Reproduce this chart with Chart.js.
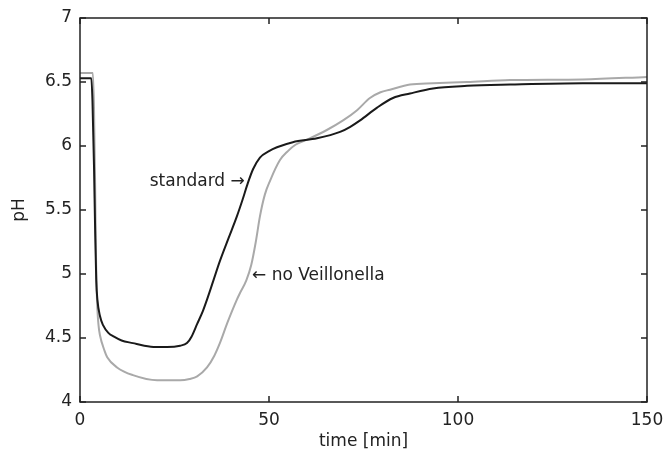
<!DOCTYPE html>
<html>
<head>
<meta charset="utf-8">
<script src="https://cdn.jsdelivr.net/npm/chart.js@4/dist/chart.umd.min.js"></script>
<style>
  html, body { margin: 0; padding: 0; background: #fff; }
</style>
</head>
<body>
<canvas id="phChart" width="664" height="461"></canvas>
<script>
// time [min] and pH
const standardTime = [0, 3.0, 3.3, 3.7, 4.0, 4.3, 4.6, 5.3, 6.1, 7.5, 9.0, 11.0, 14.0, 17.0, 20.0, 23.0, 26.5, 28.3, 29.5, 31.0, 32.5, 33.6, 35.3, 37.0, 39.3, 41.5, 43.0, 44.4, 45.8, 47.6, 50.0, 52.1, 56.3, 62.7, 68.8, 71.5, 74.1, 78.6, 82.8, 87.3, 93.4, 102.4, 113.8, 133, 150];
const standardPH = [6.53, 6.53, 6.35, 5.85, 5.35, 4.95, 4.80, 4.67, 4.60, 4.54, 4.51, 4.48, 4.46, 4.44, 4.43, 4.43, 4.44, 4.46, 4.51, 4.61, 4.71, 4.80, 4.95, 5.10, 5.28, 5.45, 5.58, 5.71, 5.82, 5.91, 5.96, 5.99, 6.03, 6.06, 6.11, 6.15, 6.20, 6.30, 6.375, 6.41, 6.45, 6.47, 6.48, 6.49, 6.49];

const noVeilTime = [0, 3.4, 3.7, 4.0, 4.2, 4.5, 4.9, 5.3, 6.5, 7.2, 9.8, 14.0, 20.4, 26.5, 29.0, 31.0, 33.6, 35.5, 37.0, 39.0, 41.5, 42.3, 44.0, 45.3, 46.5, 47.6, 48.9, 50.3, 52.9, 55.0, 57.0, 60.1, 65.3, 69.6, 73.3, 76.7, 79.5, 82.0, 87.3, 93.4, 102.4, 113.8, 133, 150];
const noVeilPH = [6.57, 6.57, 6.3, 5.7, 5.2, 4.8, 4.6, 4.52, 4.40, 4.35, 4.27, 4.21, 4.17, 4.17, 4.18, 4.20, 4.27, 4.36, 4.46, 4.62, 4.80, 4.85, 4.95, 5.07, 5.25, 5.45, 5.62, 5.73, 5.89, 5.96, 6.01, 6.05, 6.125, 6.20, 6.28, 6.375, 6.42, 6.44, 6.48, 6.49, 6.50, 6.515, 6.52, 6.54];

const xTicks = [0, 50, 100, 150];
const yTicks = [4, 4.5, 5, 5.5, 6, 6.5, 7];

// text labels placed in data coordinates
const notes = [
  { text: 'standard \u2192', x: 43.6, y: 5.72, align: 'right' },
  { text: '\u2190 no Veillonella', x: 45.5, y: 4.99, align: 'left' }
];

const FONT = 'DejaVu Sans';
const toPoints = (t, v) => t.map((x, i) => ({ x: x, y: v[i] }));

const framePlugin = {
  id: 'frame',
  beforeDraw(chart) {
    const ctx = chart.ctx;
    ctx.save();
    ctx.fillStyle = '#fff';
    ctx.fillRect(0, 0, chart.width, chart.height);
    ctx.restore();
  },
  afterDraw(chart) {
    const { ctx, chartArea: a, scales } = chart;
    ctx.save();
    ctx.strokeStyle = '#222';
    ctx.lineWidth = 1.5;
    ctx.strokeRect(a.left, a.top, a.right - a.left, a.bottom - a.top);
    ctx.beginPath();
    const len = 6;
    xTicks.forEach(v => {
      const px = scales.x.getPixelForValue(v);
      ctx.moveTo(px, a.bottom); ctx.lineTo(px, a.bottom - len);
      ctx.moveTo(px, a.top); ctx.lineTo(px, a.top + len);
    });
    yTicks.forEach(v => {
      const py = scales.y.getPixelForValue(v);
      ctx.moveTo(a.left, py); ctx.lineTo(a.left + len, py);
      ctx.moveTo(a.right, py); ctx.lineTo(a.right - len, py);
    });
    ctx.stroke();

    ctx.fillStyle = '#222';
    ctx.font = '17px "' + FONT + '"';
    ctx.textBaseline = 'middle';
    notes.forEach(n => {
      ctx.textAlign = n.align;
      ctx.fillText(n.text, scales.x.getPixelForValue(n.x), scales.y.getPixelForValue(n.y));
    });
    ctx.restore();
  }
};

new Chart(document.getElementById('phChart'), {
  type: 'line',
  data: {
    datasets: [
      {
        label: 'standard',
        data: toPoints(standardTime, standardPH),
        borderColor: '#1a1a1a',
        borderWidth: 2,
        pointRadius: 0,
        cubicInterpolationMode: 'monotone'
      },
      {
        label: 'no Veillonella',
        data: toPoints(noVeilTime, noVeilPH),
        borderColor: '#a9a9a9',
        borderWidth: 2,
        pointRadius: 0,
        cubicInterpolationMode: 'monotone'
      }
    ]
  },
  options: {
    responsive: false,
    animation: false,
    layout: { padding: { top: 18, right: 17, left: 0, bottom: 0 } },
    plugins: {
      legend: { display: false },
      tooltip: { enabled: false }
    },
    scales: {
      x: {
        type: 'linear',
        min: 0,
        max: 150,
        afterBuildTicks: s => { s.ticks = xTicks.map(v => ({ value: v })); },
        afterFit: s => { s.height = 59; s.paddingLeft = 0; s.paddingRight = 0; },
        grid: { display: false, drawTicks: false },
        border: { display: false },
        ticks: { color: '#222', padding: 8, maxRotation: 0, font: { family: FONT, size: 17 } },
        title: {
          display: true,
          text: 'time [min]',
          color: '#222',
          padding: { top: 0, bottom: 9 },
          font: { family: FONT, size: 17 }
        }
      },
      y: {
        min: 4,
        max: 7,
        afterBuildTicks: s => { s.ticks = yTicks.map(v => ({ value: v })); },
        afterFit: s => { s.width = 80; s.paddingTop = 0; s.paddingBottom = 0; },
        grid: { display: false, drawTicks: false },
        border: { display: false },
        ticks: { color: '#222', padding: 8, callback: v => String(v), font: { family: FONT, size: 17 } },
        title: {
          display: true,
          text: 'pH',
          color: '#222',
          padding: { top: 9, bottom: 0 },
          font: { family: FONT, size: 17 }
        }
      }
    }
  },
  plugins: [framePlugin]
});
</script>
</body>
</html>
